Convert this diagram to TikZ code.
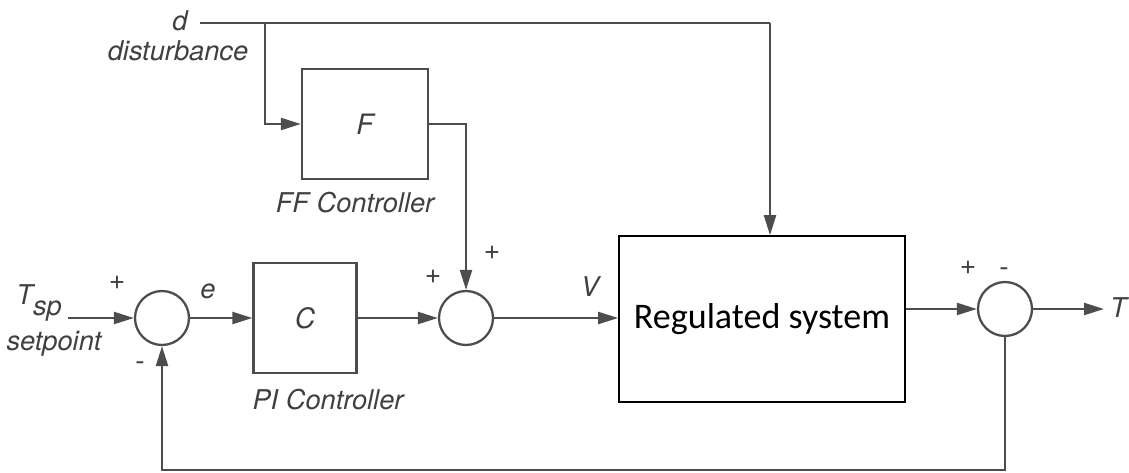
\documentclass[tikz,border=0pt]{standalone}
\usepackage{fontspec}
\setmainfont{TeX Gyre Heros}
\newfontfamily\plantfont{Carlito}
\usepackage{xcolor}
\definecolor{loopLine}{HTML}{4D4D4D}
\definecolor{loopText}{HTML}{404040}
\usetikzlibrary{arrows.meta, positioning}
\newcommand{\lblfont}{\fontsize{15.5}{18}\selectfont\itshape}
\tikzset{
  %% blocks and junctions
  blockbox/.style = {draw=loopLine, line width=1.3pt, fill=white,
                     text=loopText, inner sep=0pt,
                     font=\fontsize{16}{18}\selectfont\itshape},
  plantbox/.style = {draw=black, line width=1pt, fill=white, text=black,
                     minimum width=5.72cm, minimum height=3.32cm,
                     font=\plantfont\fontsize{20.5}{24}\selectfont},
  sumjunc/.style  = {circle, draw=loopLine, line width=1.3pt, fill=white,
                     minimum size=1.08cm, inner sep=0pt},
  %% signals
  sig/.style      = {-{Triangle[length=4mm, width=2.4mm]}, draw=loopLine,
                     line width=1.3pt},
  wire/.style     = {draw=loopLine, line width=1.3pt},
  %% text
  lbl/.style      = {text=loopText, inner sep=1pt, font=\lblfont},
  sgn/.style      = {text=loopText, inner sep=0pt,
                     font=\fontsize{16}{18}\selectfont},
}

\begin{document}
\begin{tikzpicture}[x=0.02cm, y=-0.02cm]
\useasboundingbox (0,0) rectangle (1129,473);

% junctions and blocks
\node[sumjunc] (sumA) at (162,318) {};
\node[sumjunc] (sumB) at (466,318) {};
\node[sumjunc] (sumC) at (1005,309) {};
\node[blockbox, minimum width=2.06cm, minimum height=2.2cm] (ctrlC) at (305,318) {C};
\node[blockbox, minimum width=2.52cm, minimum height=2.2cm] (ctrlF) at (365,124) {F};
\node[plantbox] (plant) at (762,319) {Regulated system};

% texts
\node[lbl] (dLbl) at (180,21) {d};
\node[lbl] (distLbl) at (178,51) {disturbance};
\node[lbl, anchor=east] (tspLbl) at (64,303) {T\raisebox{-0.8ex}{sp}};
\node[lbl] (setLbl) at (54,344) {setpoint};
\node[lbl] (eLbl) at (208,291) {e};
\node[lbl] (vLbl) at (590,287) {V};
\node[lbl, anchor=west] (tLbl) at (1108,308) {T};
\node[lbl] (ffLbl) at (355,203) {FF Controller};
\node[lbl] (piLbl) at (328,400) {PI Controller};
\node[sgn] (pA) at (117,283) {+};
\node[sgn] (mA) at (140,366) {-};
\node[sgn] (pB1) at (433,277) {+};
\node[sgn] (pB2) at (492,253) {+};
\node[sgn] (pC) at (968,268) {+};
\node[sgn] (mC) at (1004,272) {-};

% signal ends
\coordinate (dStart) at (200,23);
\coordinate (dSplit) at (265,23);
\coordinate (dDrop) at (770,23);
\coordinate (tspStart) at (68,318);
\coordinate (tOut) at (1104,309);
\coordinate (fbBase) at (0,470);

% disturbance paths
\draw[wire] (dStart) -- (dDrop);
\draw[sig] (dDrop) -- (dDrop |- plant.north);
\draw[sig] (dSplit) |- (ctrlF.west);
\draw[sig] (ctrlF.east) -| (sumB.north);

% forward path
\draw[sig] (tspStart) -- (sumA.west);
\draw[sig] (sumA.east) -- (ctrlC.west);
\draw[sig] (ctrlC.east) -- (sumB.west);
\draw[sig] (sumB.east) -- (sumB.east -| plant.west);
\draw[sig] (plant.east |- sumC.west) -- (sumC.west);
\draw[sig] (sumC.east) -- (tOut);

% feedback
\draw[sig] (sumC.south) |- (sumA.south |- fbBase) -- (sumA.south);

\end{tikzpicture}
\end{document}
